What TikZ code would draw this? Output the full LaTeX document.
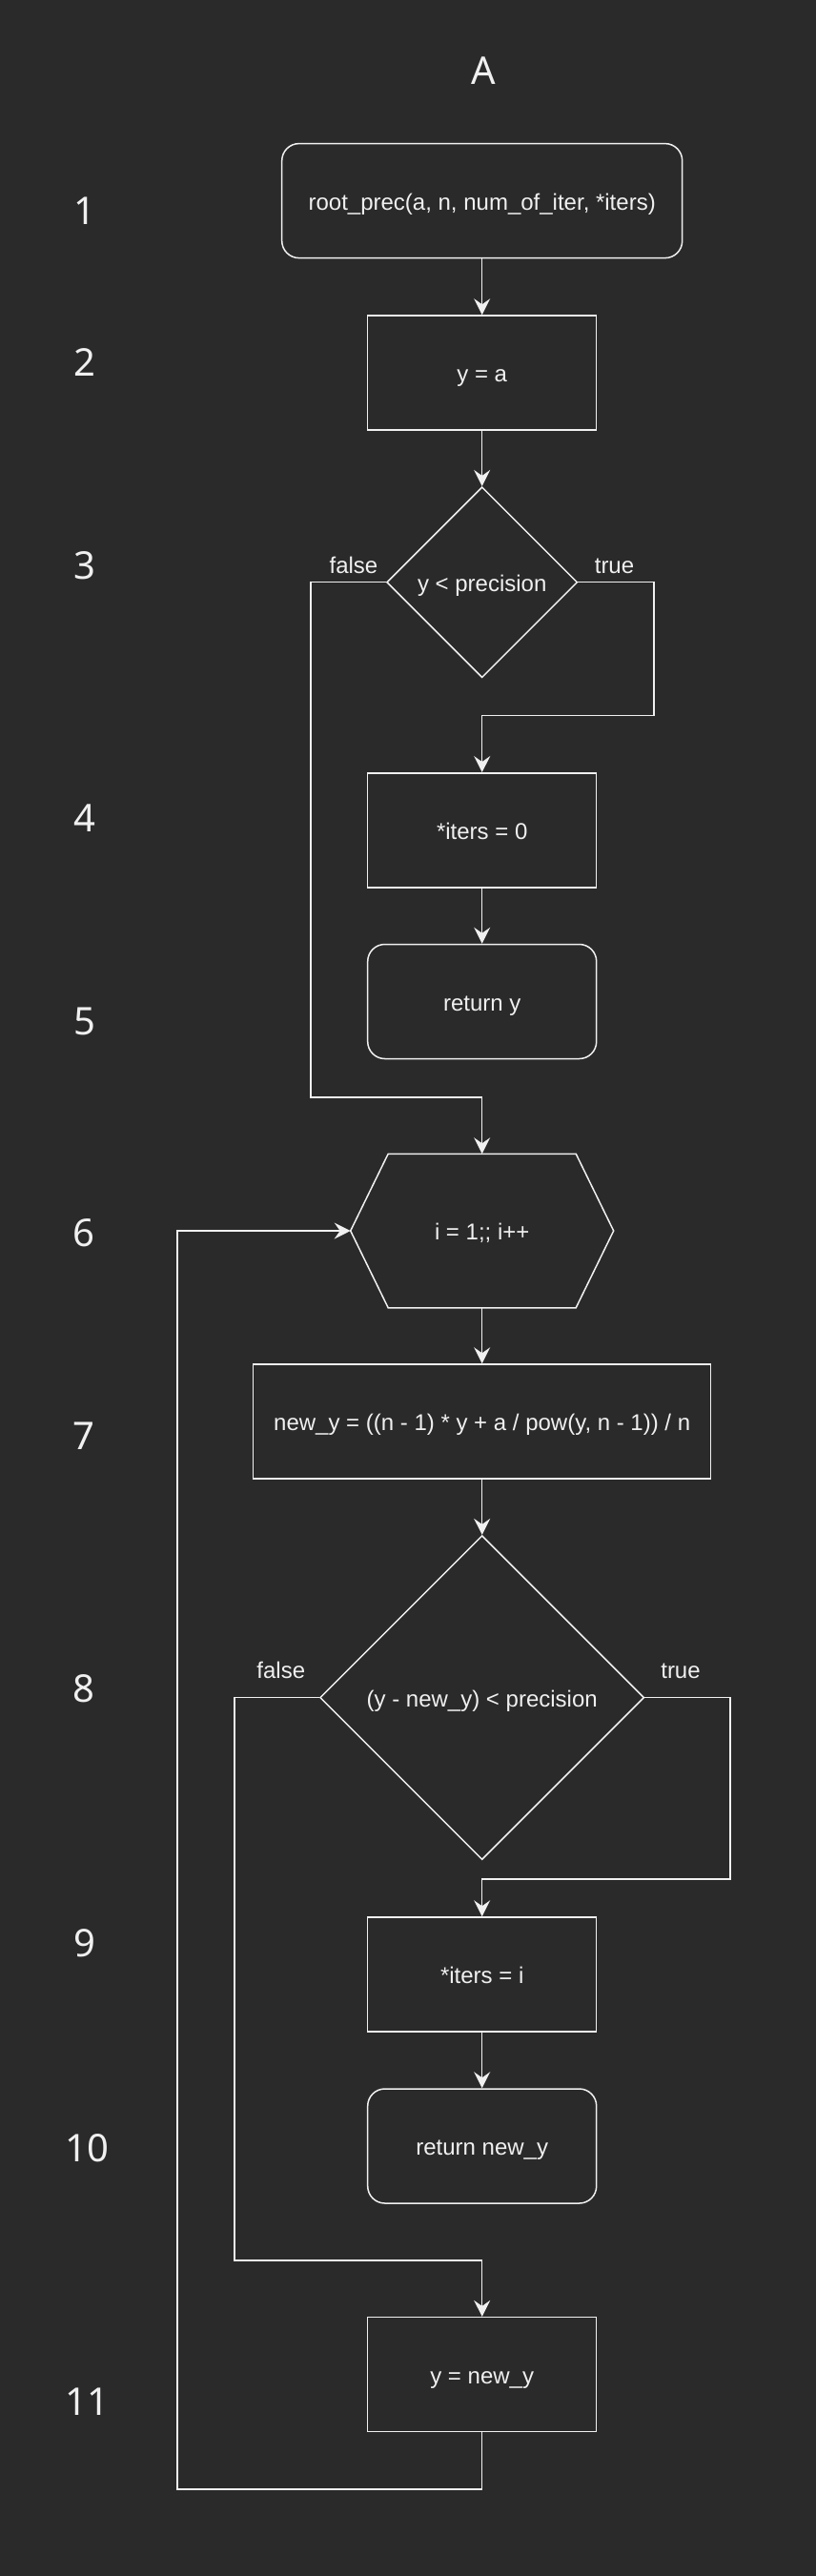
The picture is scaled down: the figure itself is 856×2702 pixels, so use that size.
\documentclass[tikz,border=0pt]{standalone}
\usepackage{fontspec}
\setmainfont{Liberation Sans}
\newfontfamily\numfont{Noto Sans}
\usetikzlibrary{arrows.meta,shapes.geometric}
\definecolor{bg}{HTML}{2A2A2A}
\definecolor{fg}{HTML}{F0F0F0}
\begin{document}
\begin{tikzpicture}[x=1pt,y=-1pt,
  every node/.style={text=fg, font=\fontsize{24}{28.8}\selectfont},
  flowshape/.style={line width=1.5pt, text height=24pt, text depth=5pt, inner sep=0pt, align=center},
  procbox/.style={flowshape, draw=fg, rectangle, minimum width=240pt, minimum height=120pt},
  roundbox/.style={procbox, rounded corners=18pt},
  decision/.style={flowshape, draw=fg, diamond, minimum width=#1, minimum height=#1},
  hexbox/.style={flowshape, rectangle, minimum width=274.5pt, minimum height=160pt},
  edgeline/.style={draw=fg, line width=1.5pt},
  conn/.style={edgeline, -{Stealth[length=17pt,width=17pt,inset=6pt]}},
  lbl/.style={inner sep=0pt, anchor=base},
  num/.style={font=\numfont\fontsize{40}{48}\selectfont, inner sep=0pt}
]
\fill[bg] (0,0) rectangle (856,2702);
\useasboundingbox (0,0) rectangle (856,2702);

% title and row numbers
\node[num] (title) at (507.6,74.6) {A};
\node[num] (r1) at (89,221) {1};
\node[num] (r2) at (89,380.5) {2};
\node[num] (r3) at (89,593) {3};
\node[num] (r4) at (89,858) {4};
\node[num] (r5) at (89,1071.7) {5};
\node[num] (r6) at (88,1293.6) {6};
\node[num] (r7) at (88,1506.4) {7};
\node[num] (r8) at (88,1771.5) {8};
\node[num] (r9) at (89,2038) {9};
\node[num] (r10) at (91,2253.5) {10};
\node[num] (r11) at (91,2519) {11};

% nodes
\node[roundbox, minimum width=420pt] (n1) at (505.7,210.6) {root\_prec(a, n, num\_of\_iter, *iters)};
\node[procbox] (n2) at (505.7,391) {y = a};
\node[decision=200pt] (n3) at (505.7,610.7) {y < precision};
\node[procbox] (n4) at (505.7,870.8) {*iters = 0};
\node[roundbox] (n5) at (505.7,1050.5) {return y};
\node[hexbox] (n6) at (505.7,1291) {i = 1;; i++};
\draw[edgeline] (n6.west) -- ([xshift=39.5pt]n6.north west) -- ([xshift=-39.5pt]n6.north east)
  -- (n6.east) -- ([xshift=-39.5pt]n6.south east) -- ([xshift=39.5pt]n6.south west) -- cycle;
\node[procbox, minimum width=480pt] (n7) at (505.7,1491) {new\_y = ((n - 1) * y + a / pow(y, n - 1)) / n};
\node[decision=340pt] (n8) at (505.7,1780.6) {(y - new\_y) < precision};
\node[procbox] (n9) at (505.7,2071) {*iters = i};
\node[roundbox] (n10) at (505.7,2251) {return new\_y};
\node[procbox] (n11) at (505.7,2490.6) {y = new\_y};

% branch labels
\node[lbl] (lf1) at (371,601) {false};
\node[lbl] (lt1) at (644.5,601) {true};
\node[lbl] (lf2) at (294.8,1760) {false};
\node[lbl] (lt2) at (714,1760) {true};

% waypoints
\coordinate (t1) at (686,750.7);
\coordinate (f1) at (326,1151);
\coordinate (t2) at (766,1971);
\coordinate (f2) at (246,2371);
\coordinate (lp) at (186,2611);

% connectors
\draw[conn] (n1.south) -- (n2.north);
\draw[conn] (n2.south) -- (n3.north);
\draw[conn] (n3.east) -| (t1) -| (n4.north);
\draw[conn] (n3.west) -| (f1) -| (n6.north);
\draw[conn] (n4.south) -- (n5.north);
\draw[conn] (n6.south) -- (n7.north);
\draw[conn] (n7.south) -- (n8.north);
\draw[conn] (n8.east) -| (t2) -| (n9.north);
\draw[conn] (n8.west) -| (f2) -| (n11.north);
\draw[conn] (n9.south) -- (n10.north);
\draw[conn] (n11.south) |- (lp) |- (n6.west);
\end{tikzpicture}
\end{document}
